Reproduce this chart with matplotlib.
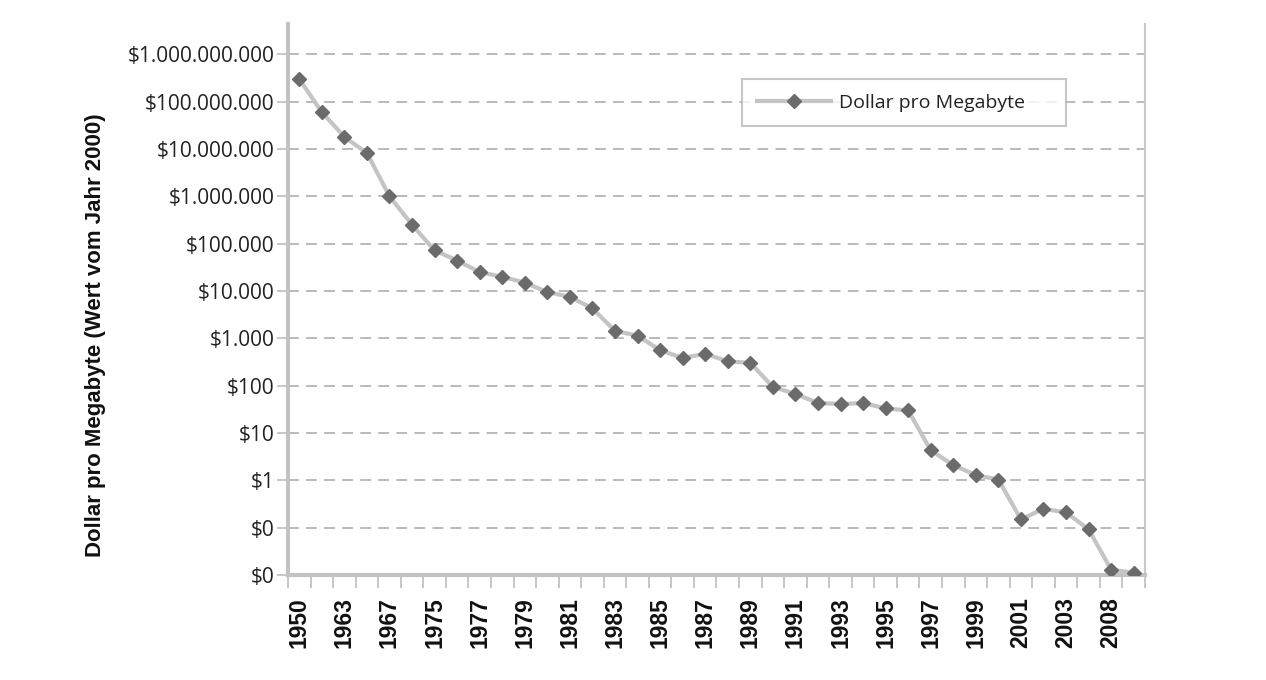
import numpy as np
import matplotlib
matplotlib.use('Agg')
import matplotlib.pyplot as plt
from matplotlib.ticker import FixedLocator, FuncFormatter, NullFormatter

# Jahre (nur jedes zweite wird beschriftet)
years = ['1950', '1956', '1963', '1965', '1967', '1970', '1975', '1976', '1977', '1978',
         '1979', '1980', '1981', '1982', '1983', '1984', '1985', '1986', '1987', '1988',
         '1989', '1990', '1991', '1992', '1993', '1994', '1995', '1996', '1997', '1998',
         '1999', '2000', '2001', '2002', '2003', '2005', '2008', '2010']

# Dollar pro Megabyte (Wert vom Jahr 2000)
dollar_per_mb = [3.0e8, 6.0e7, 1.8e7, 8.2e6, 1.0e6, 2.5e5, 7.2e4, 4.4e4, 2.5e4, 2.0e4,
                 1.5e4, 9.5e3, 7.5e3, 4.3e3, 1.43e3, 1.14e3, 560, 385, 470, 327,
                 302, 94, 67, 43, 41, 43, 33, 30, 4.3, 2.1,
                 1.29, 1.04, 0.15, 0.25, 0.21, 0.092, 0.013, 0.0112]

ytick_vals = [10.0 ** e for e in range(-2, 10)]

grey_axis = '#c3c3c3'
fig = plt.figure(figsize=(12.66, 6.8), dpi=100)
ax = fig.add_axes([0.2275, 0.1544, 0.6769, 0.8103])

x = np.arange(len(years))
ax.plot(x, dollar_per_mb, color='#c4c4c4', lw=3, marker='D', ms=7.5,
        mfc='#6b6b6b', mec='#6b6b6b', label='Dollar pro Megabyte', zorder=3)

ax.set_yscale('log')
ax.set_ylim(0.01, 10 ** 9.64)
ax.set_xlim(-0.5, len(years) - 0.5)

ax.yaxis.set_major_locator(FixedLocator(ytick_vals))
ax.yaxis.set_minor_locator(FixedLocator([]))
ax.yaxis.set_major_formatter(FuncFormatter(lambda v, p: ('$' + f'{v:,.0f}'.replace(',', '.'))))
for v in ytick_vals[1:]:
    ax.axhline(v, color='#b4b4b4', lw=1.3, ls=(0, (6, 4)), zorder=1)

ax.xaxis.set_major_locator(FixedLocator(x[::2]))
ax.set_xticklabels(years[::2], rotation=90, fontfamily='Liberation Sans',
                   fontweight='bold', fontsize=16.5, color='#111111')
ax.xaxis.set_minor_locator(FixedLocator(np.arange(-0.5, len(years), 1.0)))
ax.xaxis.set_minor_formatter(NullFormatter())
ax.tick_params(axis='x', which='major', length=0, pad=16)
ax.tick_params(axis='x', which='minor', length=9, width=1.3, color=grey_axis)
ax.tick_params(axis='y', which='major', length=8, width=1.3, color=grey_axis, pad=2,
               labelsize=15, labelcolor='#222222')
for lab in ax.get_yticklabels():
    lab.set_fontfamily('Open Sans')

ax.spines['top'].set_visible(False)
ax.spines['left'].set_color(grey_axis)
ax.spines['left'].set_linewidth(3)
ax.spines['bottom'].set_color(grey_axis)
ax.spines['bottom'].set_linewidth(3)
ax.spines['right'].set_color('#c8c8c8')
ax.spines['right'].set_linewidth(1.5)

ax.set_ylabel('Dollar pro Megabyte (Wert vom Jahr 2000)', fontfamily='Liberation Sans',
              fontweight='bold', fontsize=16, color='#111111')
ax.yaxis.set_label_coords(-0.212, 0.436)

leg = ax.legend(loc='upper left', bbox_to_anchor=(0.530, 0.820, 0.378, 0.08), mode='expand',
                frameon=True, fancybox=False, prop={'family': 'Open Sans', 'size': 14},
                borderpad=0.75, handlelength=3.8, handletextpad=0.45, borderaxespad=0)
leg.get_frame().set_edgecolor('#b8b8b8')
leg.get_frame().set_linewidth(1.5)
leg.set_zorder(5)
for t in leg.get_texts():
    t.set_color('#222222')

fig.savefig('out.png', dpi=100)
